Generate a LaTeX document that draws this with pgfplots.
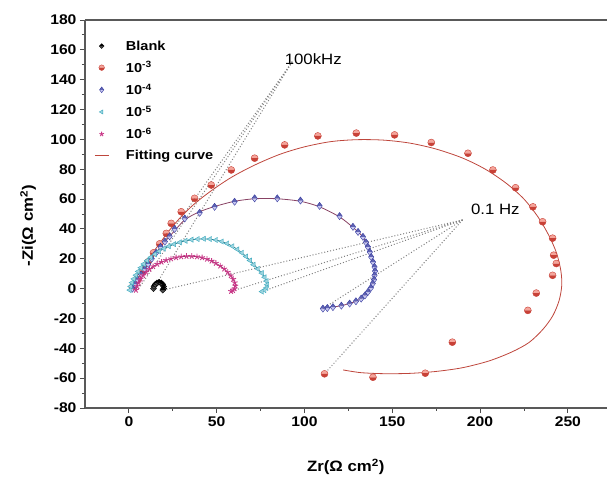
\documentclass[border=0pt]{standalone}
\usepackage{fontspec}
\setmainfont{Liberation Sans}[FakeStretch=1.12]
\usepackage{pgfplots}
\pgfplotsset{compat=1.18}
\definecolor{redD}{RGB}{200,65,55}
\definecolor{redL}{RGB}{245,165,155}
\definecolor{fitred}{RGB}{190,70,60}
\definecolor{bluD}{RGB}{55,60,160}
\definecolor{bluL}{RGB}{200,200,240}
\definecolor{cyanD}{RGB}{60,170,190}
\definecolor{magD}{RGB}{200,55,135}
\begin{document}
\begin{tikzpicture}
\begin{axis}[
  scale only axis, width=521.5pt, height=388pt,
  xmin=-25, xmax=272, ymin=-80, ymax=180,
  axis x line=box, axis y line=left,
  axis line style={-, draw=black!65, line width=1.1pt},
  xtick={0,50,...,250}, ytick={-80,-60,...,180},
  minor x tick num=1, minor y tick num=1,
  xtick pos=bottom,
  tick align=outside, major tick length=5pt, minor tick length=3pt,
  tick style={black!70, line width=0.9pt},
  ticklabel style={font=\fontsize{14}{14}\selectfont\bfseries},
  /pgf/number format/assume math mode=true,
  xlabel={Zr(Ω cm\textsuperscript{2})},
  ylabel={-Zi(Ω cm\textsuperscript{2})},
  every axis x label/.style={at={(axis description cs:0.5,-0.152)}, anchor=center, font=\fontsize{15}{15}\selectfont\bfseries},
  every axis y label/.style={at={(axis description cs:-0.109,0.47)}, anchor=center, rotate=90, font=\fontsize{15}{15}\selectfont\bfseries},
  legend style={draw=none, fill=none, at={(axis description cs:0.012,0.955)}, anchor=north west,
    font=\fontsize{13}{13}\selectfont\bfseries, row sep=8pt, column sep=16pt, nodes={inner sep=1pt}},
  legend cell align=left,
  legend image post style={scale=0.8},
]
\coordinate (SW) at (rel axis cs:0,0);
\coordinate (NE) at (rel axis cs:1,1);

% dotted leader lines (100 kHz)
\addplot[forget plot, dotted, gray, line width=1pt] coordinates {(93,152) (0.5,-1)};
\addplot[forget plot, dotted, gray, line width=1pt] coordinates {(93,152) (5,-1)};
\addplot[forget plot, dotted, gray, line width=1pt] coordinates {(93,152) (14,0)};
% dotted leader lines (0.1 Hz)
\addplot[forget plot, dotted, gray, line width=1pt] coordinates {(190,46) (19.3,-1)};
\addplot[forget plot, dotted, gray, line width=1pt] coordinates {(190,46) (58.2,-1.8)};
\addplot[forget plot, dotted, gray, line width=1pt] coordinates {(190,46) (75.8,-2)};
\addplot[forget plot, dotted, gray, line width=1pt] coordinates {(190,46) (110.5,-13.4)};
\addplot[forget plot, dotted, gray, line width=1pt] coordinates {(190,46) (111.4,-57.1)};

% Blank
\addplot[only marks, mark=halfsquare*, mark size=3pt,
  mark options={draw=black, fill=black!70, mark color=black}]
  coordinates {(14,0) (14.3,1.5) (15,2.8) (16,3.8) (17.2,4.2) (18.4,3.8) (19.3,2.8) (19.8,1.4) (19.8,0) (19.3,-1)};
\addlegendentry{Blank}
% 10^-3
\addplot[only marks, mark=halfcircle*, mark size=3.5pt,
  mark options={draw=redD, fill=redL, mark color=redD}]
  coordinates {(2,1) (5,6) (8,12) (11,18) (14,24) (17.5,30) (21.3,37) (24.1,43.7) (29.8,51.5) (37.4,60.5)
  (46.9,69.4) (58.3,79.5) (71.6,87.4) (88.7,96.3) (107.6,102.3) (129.5,104.2) (151.3,103) (172.2,97.9)
  (193.1,90.7) (207.3,79.5) (220.2,67.6) (230.1,54.8) (235.6,44.8) (241.3,33.8) (241.9,22.4) (243.4,16.8)
  (241.3,8.9) (232,-3) (227.2,-14.6) (184.2,-35.9) (168.8,-56.7) (139,-59.4) (111.4,-57.1)};
\addlegendentry{10\textsuperscript{-3}}
% 10^-4
\addplot[only marks, mark=halfdiamond*, mark size=3.6pt,
  mark options={draw=bluD, fill=bluL, mark color=bluD!80}]
  coordinates {(2,0) (3.5,3) (5,6) (7,9.5) (9,13) (11,16.5) (13,20) (15.5,24) (18,28) (20.5,31.5) (23.2,35)
  (26,40) (31.8,47) (40.3,50.8) (48.8,54.8) (60.2,58.2) (71.6,60.5) (84.5,60.5) (97.7,59) (108.6,55.4)
  (120,48.6) (127.6,41.4) (130.5,38) (133.3,34.7) (135,31) (136.1,28) (137.2,24.5) (138,21.2) (139,17.8)
  (139.9,14.5) (140.2,11.7) (139.9,8.9) (139.6,6) (138.9,3.4) (137.8,0.5) (136.1,-2.3) (134.4,-4.6)
  (132.3,-6.7) (129.3,-8.5) (125.7,-10) (121,-11.4) (116.2,-12.4) (113,-13) (110.5,-13.4)};
\addlegendentry{10\textsuperscript{-4}}
% 10^-5
\addplot[only marks, mark=triangle*, mark size=3pt,
  mark options={draw=cyanD, fill=cyanD!50, rotate=90}]
  coordinates {(0.5,-1) (1,1.5) (1.8,4) (2.8,6.5) (4,9) (5.3,11.5) (6.8,14) (8.5,16.5) (10.4,18.8) (12.5,21)
  (14.8,23) (17.3,25) (20,26.8) (22.8,28.4) (25.8,29.8) (29,31) (32.3,32) (35.7,32.8) (39.2,33.2)
  (42.7,33.4) (46.2,33.2) (49.6,32.6) (52.9,31.6) (56,30.2) (59,28.4) (61.8,26.3) (64.4,24) (66.8,21.5)
  (69,18.8) (71,16) (73.5,13.2) (75.7,10.4) (77.3,7.6) (78.4,5) (78.8,2.6) (78.3,0.5) (77.2,-1) (75.8,-2)};
\addlegendentry{10\textsuperscript{-5}}
% 10^-6
\addplot[only marks, mark=star, mark size=3pt,
  mark options={draw=magD, line width=0.9pt}]
  coordinates {(4,-1) (4.6,1.5) (5.5,4) (6.7,6.5) (8.1,8.8) (9.8,11) (11.7,13) (13.8,14.8) (16.1,16.4)
  (18.6,17.8) (21.2,19) (24,20) (26.9,20.8) (29.8,21.4) (32.8,21.7) (35.8,21.7) (38.8,21.4) (41.7,20.8)
  (44.5,19.8) (47.1,18.5) (49.5,17) (52,15.2) (54.3,13.2) (56.3,11) (58,8.7) (59.4,6.3) (60.3,4) (60.6,1.8)
  (60.2,0) (59.3,-1.2) (58.2,-1.8)};
\addlegendentry{10\textsuperscript{-6}}

% fitting curves
\addplot[smooth, fitred, line width=0.8pt, no marks]
  coordinates {(1,0) (4,7) (8,14) (13,23) (18,31) (23,39) (30,48.5) (38,57.5) (48,66.5) (59,75) (72,83) (86,90)
  (100,95) (115,98.5) (130,99.8) (145,99.5) (160,97.5) (175,93.5) (190,87.5) (203,80) (215,70.5) (225,60)
  (233,48) (239,36) (243.5,24) (246,12) (246.5,2) (245,-8) (241.5,-18) (236,-27) (228,-36) (218,-42.5)
  (205,-48.5) (190,-53) (175,-55.5) (160,-56.8) (145,-57) (132,-56.3) (122,-54.5)};
\addlegendentry{Fitting curve}
\addplot[forget plot, smooth, fitred!60!bluD, line width=0.8pt, no marks]
  coordinates {(2,0) (5,6) (9,13) (13,20) (18,28) (23.2,35) (31.8,46) (40.3,51.5) (48.8,55) (60.2,58.5)
  (71.6,60.2) (84.5,60.2) (97.7,58.5) (108.6,54.8) (120,48) (127.6,41) (133.3,34.5) (137.2,25) (139.6,15)
  (139.9,7) (137.8,0.5) (134.4,-4.6) (129.3,-8.5) (121,-11.4) (110.5,-13.4)};
\addplot[forget plot, smooth, cyanD!70!black, line width=0.7pt, no marks]
  coordinates {(0.5,-1) (2.8,6.5) (6.8,14) (12.5,21) (20,26.8) (29,31) (39.2,33.2) (49.6,32.6) (59,28.4)
  (66.8,21.5) (73.5,13.2) (77.3,7.6) (78.8,2.6) (77.2,-1) (75.8,-2)};
\addplot[forget plot, smooth, magD!70!black, line width=0.7pt, no marks]
  coordinates {(4,-1) (5.5,4) (8.1,8.8) (13.8,14.8) (21.2,19) (29.8,21.4) (38.8,21.4) (47.1,18.5) (54.3,13.2)
  (59.4,6.3) (60.6,1.8) (59.3,-1.2) (58.2,-1.8)};

\node[font=\fontsize{15}{15}\selectfont] at (axis cs:105,154) {100kHz};
\node[font=\fontsize{15}{15}\selectfont] at (axis cs:208.7,53.3) {0.1 Hz};
\end{axis}
\pgfresetboundingbox
\path ([xshift=-85pt,yshift=-69pt]SW) rectangle ([xshift=0.5pt,yshift=20pt]NE);
\end{tikzpicture}
\end{document}
